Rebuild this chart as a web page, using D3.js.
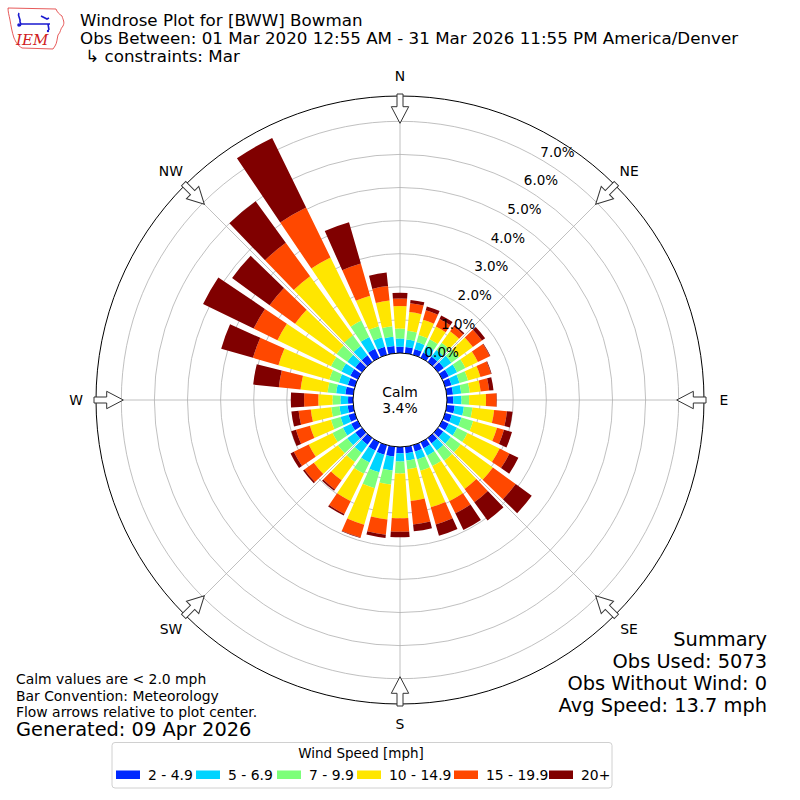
<!DOCTYPE html>
<html>
<head>
<meta charset="utf-8">
<script src="https://cdn.jsdelivr.net/npm/d3@7"></script>
<style>
  html, body { margin: 0; padding: 0; background: #fff; }
  svg { display: block; font-family: "DejaVu Sans", sans-serif; }
</style>
</head>
<body>
<svg id="chart" width="800" height="800"></svg>
<script>
// ---------------- DATA ----------------
const directions = [0,10,20,30,40,50,60,70,80,90,100,110,120,130,140,150,160,170,
                    180,190,200,210,220,230,240,250,260,270,280,290,300,310,320,330,340,350];
const speedBins = ["2 - 4.9", "5 - 6.9", "7 - 9.9", "10 - 14.9", "15 - 19.9", "20+"];
const binColors = ["#0028ff", "#00d4ff", "#7dff7a", "#ffe600", "#ff4800", "#800000"];
// percent of observations per direction for each speed bin
const bin2to5   = [0.19,0.19,0.18,0.18,0.20,0.22,0.22,0.20,0.19,0.19,0.24,0.21,0.22,0.20,0.20,0.20,0.20,0.20,
                   0.19,0.30,0.30,0.28,0.25,0.25,0.22,0.20,0.17,0.15,0.24,0.22,0.25,0.25,0.25,0.30,0.25,0.22];
const bin5to7   = [0.25,0.23,0.22,0.22,0.25,0.28,0.28,0.25,0.25,0.25,0.28,0.30,0.28,0.28,0.27,0.25,0.25,0.22,
                   0.25,0.42,0.55,0.40,0.30,0.30,0.28,0.25,0.25,0.23,0.28,0.28,0.30,0.30,0.35,0.40,0.30,0.28];
const bin7to10  = [0.30,0.26,0.22,0.22,0.27,0.28,0.28,0.27,0.26,0.23,0.26,0.37,0.35,0.37,0.38,0.35,0.35,0.26,
                   0.36,0.43,0.50,0.38,0.35,0.35,0.35,0.30,0.25,0.24,0.26,0.30,0.35,0.40,0.40,0.55,0.35,0.32];
const bin10to15 = [0.68,0.57,0.48,0.43,0.43,0.52,0.42,0.39,0.33,0.51,0.66,0.75,1.08,1.20,1.05,1.18,1.15,0.97,
                   1.35,1.06,1.15,0.92,0.68,0.90,0.80,0.66,0.62,0.43,0.82,1.60,1.80,1.55,2.20,2.12,0.96,0.78];
const bin15to20 = [0.23,0.27,0.30,0.25,0.18,0.34,0.40,0.33,0.26,0.32,0.39,0.22,0.33,0.85,0.50,0.41,0.54,0.71,
                   0.41,0.46,0.40,0.43,0.34,0.35,0.50,0.44,0.37,0.43,0.66,0.80,0.80,0.95,1.25,1.68,1.01,0.44];
const bin20plus = [0.17,0.10,0.12,0.12,0.05,0.12,0.02,0.02,0.13,0.01,0.17,0.25,0.30,0.60,0.68,0.56,0.36,0.21,
                   0.17,0.10,0.02,0.05,0.05,0.05,0.11,0.15,0.22,0.40,0.78,1.00,1.70,1.40,1.55,2.34,1.30,0.41];
const ringTicks = [0,1,2,3,4,5,6,7];
const compass = [
  {label:"N", deg:0},{label:"NE", deg:45},{label:"E", deg:90},{label:"SE", deg:135},
  {label:"S", deg:180},{label:"SW", deg:225},{label:"W", deg:270},{label:"NW", deg:315}];
const calmPct = 3.4;
const titleLines = ["Windrose Plot for [BWW] Bowman",
                    "Obs Between: 01 Mar 2020 12:55 AM - 31 Mar 2026 11:55 PM America/Denver",
                    " \u21b3 constraints: Mar"];
const noteLines = ["Calm values are < 2.0 mph", "Bar Convention: Meteorology", "Flow arrows relative to plot center."];
const generatedText = "Generated: 09 Apr 2026";
const summaryLines = ["Summary", "Obs Used: 5073", "Obs Without Wind: 0", "Avg Speed: 13.7 mph"];
const legendTitle = "Wind Speed [mph]";

// ---------------- SETUP ----------------
const svg = d3.select("#chart");
const cx = 400, cy = 400;
const calmR = 47, outerR = 304;
const pxPerPct = 33.1;
const r = d3.scaleLinear().domain([0, (outerR - calmR) / pxPerPct]).range([calmR, outerR]);
const ang = d3.scaleLinear().domain([0, 360]).range([0, 2 * Math.PI]);
const binWidthDeg = 360 / directions.length;
const opening = 0.8;

const g = svg.append("g").attr("transform", `translate(${cx},${cy})`);

// grid rings
g.append("g").selectAll("circle").data(ringTicks).join("circle")
  .attr("r", d => r(d)).attr("fill", "none").attr("stroke", "#b0b0b0").attr("stroke-width", 0.8);
// spokes
g.append("g").selectAll("line").data(compass).join("line")
  .attr("x1", d => Math.sin(ang(d.deg)) * r(0)).attr("y1", d => -Math.cos(ang(d.deg)) * r(0))
  .attr("x2", d => Math.sin(ang(d.deg)) * outerR).attr("y2", d => -Math.cos(ang(d.deg)) * outerR)
  .attr("stroke", "#b0b0b0").attr("stroke-width", 0.8);

// stacked bars
const series = [bin2to5, bin5to7, bin7to10, bin10to15, bin15to20, bin20plus];
const table = directions.map((dir, i) => {
  const row = { dir };
  speedBins.forEach((b, k) => row[b] = series[k][i]);
  return row;
});
const stacked = d3.stack().keys(speedBins)(table);
const arc = d3.arc();
const bars = g.append("g");
stacked.forEach((layer, k) => {
  bars.append("g").attr("fill", binColors[k]).selectAll("path").data(layer).join("path")
    .attr("d", d => arc({
      innerRadius: r(d[0]), outerRadius: r(d[1]),
      startAngle: ang(d.data.dir - binWidthDeg * opening / 2),
      endAngle: ang(d.data.dir + binWidthDeg * opening / 2)
    }));
});

// calm circle
g.append("circle").attr("r", r(0)).attr("fill", "#fff").attr("stroke", "#000").attr("stroke-width", 1);
g.append("text").attr("text-anchor", "middle").attr("y", -3).attr("font-size", 13.9).text("Calm");
g.append("text").attr("text-anchor", "middle").attr("y", 13).attr("font-size", 13.9).text(calmPct.toFixed(1) + "%");

// outer circle
g.append("circle").attr("r", outerR).attr("fill", "none").attr("stroke", "#000").attr("stroke-width", 1);

// ring labels
const labelDeg = 30;
g.append("g").selectAll("text").data(ringTicks).join("text")
  .attr("x", d => Math.sin(ang(labelDeg)) * r(d) + 1)
  .attr("y", d => -Math.cos(ang(labelDeg)) * r(d) - 2)
  .attr("font-size", 13.5).attr("fill", "#000")
  .text(d => d.toFixed(1) + "%");

// arrows (pointing toward center)
const arrowPath = "M-3,0 L3,0 L3,12.7 L8.7,12.7 L0,29.3 L-8.7,12.7 L-3,12.7 Z";
g.append("g").selectAll("path").data(compass).join("path")
  .attr("d", arrowPath)
  .attr("transform", d => `rotate(${d.deg}) translate(0,${-(outerR + 2)})`)
  .attr("fill", "#fff").attr("stroke", "#333").attr("stroke-width", 1);

// direction labels
g.append("g").selectAll("text").data(compass).join("text")
  .attr("x", d => Math.sin(ang(d.deg)) * 324)
  .attr("y", d => -Math.cos(ang(d.deg)) * 324)
  .attr("text-anchor", "middle").attr("dominant-baseline", "central")
  .attr("font-size", 13.9).text(d => d.label);

// title
svg.append("g").selectAll("text").data(titleLines).join("text")
  .attr("x", 80).attr("y", (d, i) => 26 + i * 18)
  .attr("font-size", 16.7).style("white-space", "pre").text(d => d);

// logo
const logo = svg.append("g");
logo.append("path")
  .attr("d", "M8,8 L56,9 C57,12 59,14 62,16 C63,20 65,22 63,26 C60,29 61,32 58,35 C57,39 57,43 55,46 L53,49 L22,48 C17,45 16,42 14,38 C12,32 11,26 10,20 C9,15 8,12 8,8 Z")
  .attr("fill", "none").attr("stroke", "#e03030").attr("stroke-width", 0.8);
logo.append("text").attr("x", 16).attr("y", 45).attr("font-family", "DejaVu Serif, serif")
  .attr("font-style", "italic").attr("font-size", 15).attr("fill", "#d02020").text("IEM");
logo.append("path").attr("d", "M19,13 C17,16 21,18 20,22 L21,24 M21,24 L50,24 M41,16 L47,19 L49,18 M48,24 L49,30 M21,24 L20,26")
  .attr("fill", "none").attr("stroke", "#1a1ad0").attr("stroke-width", 1.6);
logo.append("circle").attr("cx", 19).attr("cy", 25).attr("r", 1.8).attr("fill", "#1a1ad0");
logo.append("circle").attr("cx", 48).attr("cy", 31).attr("r", 1.2).attr("fill", "#1a1ad0");

// notes
svg.append("g").selectAll("text").data(noteLines).join("text")
  .attr("x", 16).attr("y", (d, i) => 684 + i * 16.5).attr("font-size", 13.9).text(d => d);
svg.append("text").attr("x", 16).attr("y", 736).attr("font-size", 19.4).text(generatedText);

// summary
svg.append("g").selectAll("text").data(summaryLines).join("text")
  .attr("x", 767).attr("y", (d, i) => 646 + i * 22).attr("text-anchor", "end")
  .attr("font-size", 19.4).text(d => d);

// legend
const lg = svg.append("g");
lg.append("rect").attr("x", 112).attr("y", 742.5).attr("width", 500).attr("height", 45.5)
  .attr("rx", 3).attr("fill", "#fff").attr("stroke", "#d0d0d0").attr("stroke-width", 1);
lg.append("text").attr("x", 361).attr("y", 758).attr("text-anchor", "middle").attr("font-size", 13.5).text(legendTitle);
const legX = [116, 196, 277, 357, 454, 549];
const items = lg.selectAll("g.item").data(speedBins).join("g").attr("class", "item")
  .attr("transform", (d, i) => `translate(${legX[i]},770.5)`);
items.append("rect").attr("width", 24).attr("height", 8.5).attr("fill", (d, i) => binColors[i]);
items.append("text").attr("x", 32).attr("y", 9).attr("font-size", 13.9).text(d => d);
</script>
</body>
</html>
